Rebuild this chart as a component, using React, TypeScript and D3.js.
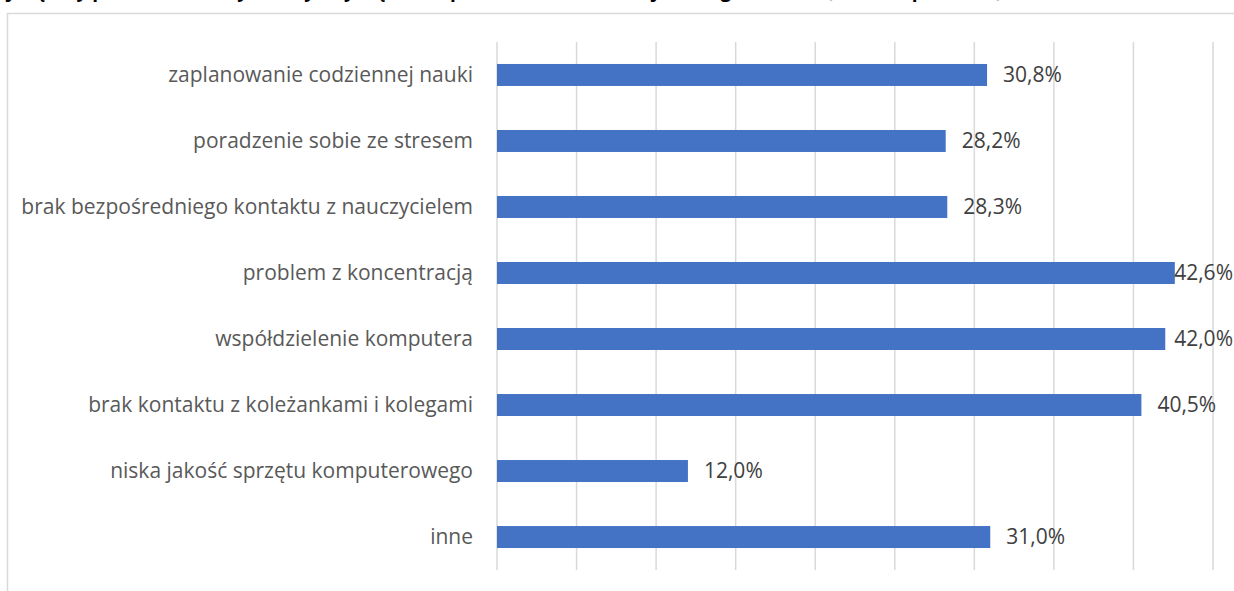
import React, { useEffect, useRef } from 'react';
import * as d3 from 'd3';

// chart data
const categories: string[] = [
  'zaplanowanie codziennej nauki',
  'poradzenie sobie ze stresem',
  'brak bezpośredniego kontaktu z nauczycielem',
  'problem z koncentracją',
  'współdzielenie komputera',
  'brak kontaktu z koleżankami i kolegami',
  'niska jakość sprzętu komputerowego',
  'inne',
];
const values: number[] = [30.8, 28.2, 28.3, 42.6, 42.0, 40.5, 12.0, 31.0];
const xTicks: number[] = [0, 5, 10, 15, 20, 25, 30, 35, 40, 45];
const title = 'Największy problem, z którym borykały się dzieci podczas nauki zdalnej według rodziców (wiele odpowiedzi)';

const plLocale = d3.formatLocale({ decimal: ',', thousands: ' ', grouping: [3], currency: ['', ' zł'] });
const fmt = plLocale.format('.1f');

const App: React.FC = () => {
  const containerRef = useRef<HTMLDivElement | null>(null);

  useEffect(() => {
    if (!containerRef.current) return;
    containerRef.current.innerHTML = '';

    const width = 1234;
    const height = 591;
    const margin = { top: 42, right: 21, bottom: 21, left: 497 };
    const font = '"Open Sans", "Noto Sans", sans-serif';

    const svg = d3
      .select(containerRef.current)
      .append('svg')
      .attr('width', width)
      .attr('height', height)
      .style('display', 'block')
      .style('background', '#ffffff');

    // title, cut off at the top edge (only descenders show)
    svg
      .append('text')
      .attr('x', -20)
      .attr('y', -3)
      .attr('font-family', font)
      .attr('font-weight', 'bold')
      .attr('font-size', 19)
      .attr('fill', '#000000')
      .text(title);

    // chart frame
    svg
      .append('rect')
      .attr('x', 7.5)
      .attr('y', 13.5)
      .attr('width', 1300)
      .attr('height', 700)
      .attr('fill', 'none')
      .attr('stroke', '#d9d9d9')
      .attr('stroke-width', 1.5);

    const xScale = d3.scaleLinear().domain([0, 45]).range([margin.left, width - margin.right]);
    const yScale = d3
      .scaleBand<string>()
      .domain(categories)
      .range([margin.top, height - margin.bottom])
      .paddingInner(0.667)
      .paddingOuter(0.333);

    // vertical gridlines
    svg
      .append('g')
      .selectAll('line')
      .data(xTicks)
      .join('line')
      .attr('x1', (d) => xScale(d))
      .attr('x2', (d) => xScale(d))
      .attr('y1', margin.top)
      .attr('y2', height - margin.bottom)
      .attr('stroke', '#d9d9d9')
      .attr('stroke-width', 1.5);

    const rows = categories.map((c, i) => ({ category: c, value: values[i] }));

    // bars
    svg
      .append('g')
      .selectAll('rect')
      .data(rows)
      .join('rect')
      .attr('x', xScale(0))
      .attr('y', (d) => yScale(d.category) as number)
      .attr('width', (d) => xScale(d.value) - xScale(0))
      .attr('height', yScale.bandwidth())
      .attr('fill', '#4472c4');

    // category labels
    svg
      .append('g')
      .selectAll('text')
      .data(rows)
      .join('text')
      .attr('x', margin.left - 24)
      .attr('y', (d) => (yScale(d.category) as number) + yScale.bandwidth() / 2)
      .attr('dy', '0.35em')
      .attr('text-anchor', 'end')
      .attr('font-family', font)
      .attr('font-size', 21)
      .attr('fill', '#595959')
      .text((d) => d.category);

    // value labels, pushed back inside the frame when they would overflow
    const labels = svg
      .append('g')
      .selectAll<SVGTextElement, { category: string; value: number }>('text')
      .data(rows)
      .join('text')
      .attr('x', (d) => xScale(d.value) + 16)
      .attr('y', (d) => (yScale(d.category) as number) + yScale.bandwidth() / 2)
      .attr('dy', '0.35em')
      .attr('font-family', font)
      .attr('font-size', 21)
      .attr('fill', '#404040')
      .text((d) => fmt(d.value) + '%');

    labels.each(function (d) {
      const w = this.getComputedTextLength();
      const x = Math.min(xScale(d.value) + 16, width - 1 - w);
      d3.select(this).attr('x', x);
    });
  }, []);

  return <div ref={containerRef} style={{ position: 'absolute', left: 0, top: 0 }} />;
};

export default App;
